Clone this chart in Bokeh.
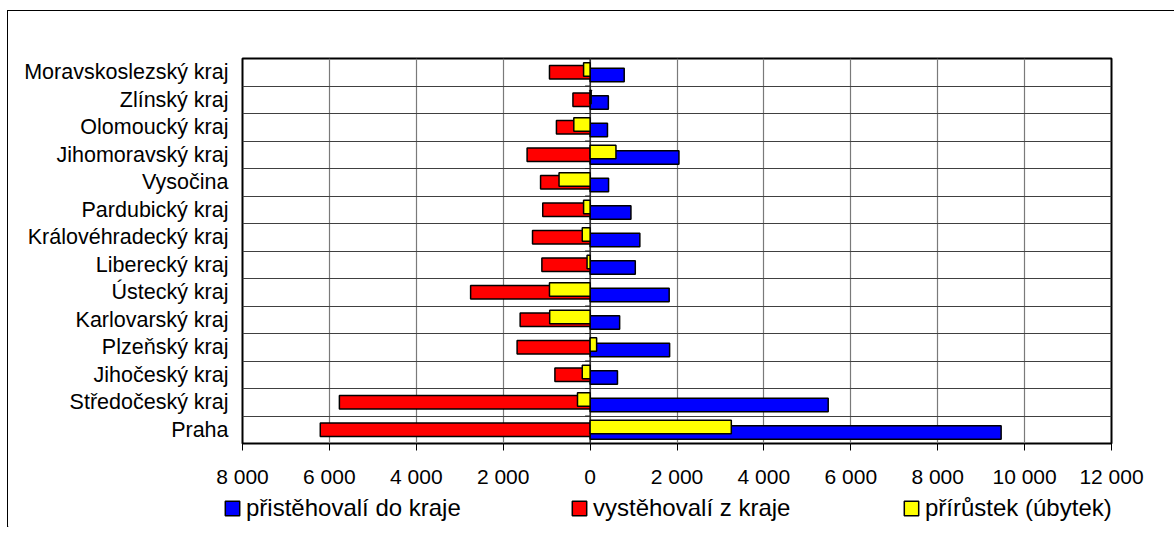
from bokeh.plotting import figure
from bokeh.layouts import column, row
from bokeh.models import Range1d, FixedTicker, ColumnDataSource, Legend, LegendItem, Span
from bokeh.embed import file_html
from bokeh.resources import INLINE

# ---- data (bottom to top) ----
regions = ["Praha", "Středočeský kraj", "Jihočeský kraj", "Plzeňský kraj",
           "Karlovarský kraj", "Ústecký kraj", "Liberecký kraj",
           "Královéhradecký kraj", "Pardubický kraj", "Vysočina",
           "Jihomoravský kraj", "Olomoucký kraj", "Zlínský kraj",
           "Moravskoslezský kraj"]
immigrants = [9460, 5480, 630, 1830, 680, 1820, 1040, 1145, 940, 425, 2045, 400, 420, 785]
emigrants = [-6210, -5770, -810, -1680, -1610, -2750, -1110, -1325, -1090, -1140, -1450, -775, -395, -935]
net = [3250, -290, -180, 150, -930, -935, -70, -180, -150, -715, 595, -375, 25, -150]
series_names = ["přistěhovalí do kraje", "vystěhovalí z kraje", "přírůstek (úbytek)"]
series_colors = ["#0000ff", "#ff0000", "#ffff00"]
x_ticks = [-8000, -6000, -4000, -2000, 0, 2000, 4000, 6000, 8000, 10000, 12000]
x_tick_labels = ["8 000", "6 000", "4 000", "2 000", "0", "2 000", "4 000",
                 "6 000", "8 000", "10 000", "12 000"]

FONT = "Liberation Sans"
n = len(regions)
centers = [i + 0.5 for i in range(n)]
OFF = 0.1
BAR_H = 0.485

W, H = 1166, 482
ML, MR, MT, MB = 234, 63, 47, 50
LH = 34
legend_x = [215, 562, 894]   # left edges of the legend entries (px)

p = figure(width=W, height=H, output_backend="svg", toolbar_location=None,
           x_range=Range1d(x_ticks[0], x_ticks[-1]), y_range=Range1d(0, n),
           min_border_left=ML, min_border_right=MR, min_border_top=MT, min_border_bottom=MB)
p.background_fill_color = "white"
p.border_fill_color = "white"
p.outline_line_color = "black"
p.outline_line_width = 2

# grids
p.xgrid.ticker = FixedTicker(ticks=x_ticks)
p.xgrid.grid_line_color = "#7a7a7a"
p.xgrid.grid_line_width = 1.2
p.ygrid.ticker = FixedTicker(ticks=list(range(1, n)))
p.ygrid.grid_line_color = "#404040"
p.ygrid.grid_line_width = 1.2

# x axis
xa = p.xaxis[0]
xa.ticker = FixedTicker(ticks=x_ticks)
xa.major_label_overrides = {t: l for t, l in zip(x_ticks, x_tick_labels)}
xa.axis_line_color = None
xa.major_tick_line_color = "black"
xa.major_tick_out = 7
xa.major_tick_in = 0
xa.minor_tick_line_color = None
xa.major_label_standoff = 14
xa.major_label_text_font = FONT
xa.major_label_text_font_size = "21px"
xa.major_label_text_color = "black"

# y axis (category labels)
ya = p.yaxis[0]
ya.ticker = FixedTicker(ticks=centers)
ya.major_label_overrides = {c: r for c, r in zip(centers, regions)}
ya.axis_line_color = None
ya.major_tick_line_color = None
ya.minor_tick_line_color = None
ya.major_label_standoff = 8
ya.major_label_text_font = FONT
ya.major_label_text_font_size = "21.5px"
ya.major_label_text_color = "black"

# zero category axis with small ticks pointing left
px_per_unit = (W - ML - MR) / (x_ticks[-1] - x_ticks[0])
tick_len = 5 / px_per_unit
p.add_layout(Span(location=0, dimension="height", line_color="#202020",
                  line_width=1.3, level="underlay"))
bounds = list(range(1, n))
p.segment(x0=[0] * len(bounds), x1=[-tick_len] * len(bounds), y0=bounds, y1=bounds,
          line_color="#202020", line_width=1.2)

src = ColumnDataSource(dict(
    yb=[c - OFF for c in centers], yr=centers, yy=[c + OFF for c in centers],
    imm=immigrants, emi=emigrants, net=net))

p.hbar(y="yb", left=0, right="imm", height=BAR_H, source=src,
       fill_color=series_colors[0], line_color="black", line_width=1.5)
p.hbar(y="yr", left=0, right="emi", height=BAR_H, source=src,
       fill_color=series_colors[1], line_color="black", line_width=1.5)
p.hbar(y="yy", left=0, right="net", height=BAR_H, source=src,
       fill_color=series_colors[2], line_color="black", line_width=1.5)

# legend strip below the chart
q = figure(width=W, height=LH, output_backend="svg", toolbar_location=None,
           x_axis_type=None, y_axis_type=None, x_range=Range1d(0, 1), y_range=Range1d(0, 1),
           min_border=0)
q.outline_line_color = None
q.background_fill_color = "white"
q.border_fill_color = "white"
q.xgrid.visible = False
q.ygrid.visible = False
for name, col, lx in zip(series_names, series_colors, legend_x):
    # swatch-only renderer, placed outside the visible ranges
    r = q.hbar(y=[-5], left=[-6], right=[-5], height=0.5, fill_color=col,
               line_color="black", line_width=1.5)
    lg = Legend(items=[LegendItem(label=name, renderers=[r])], location=(lx, 5),
                padding=0, margin=0, label_standoff=5,
                glyph_width=18, glyph_height=18,
                border_line_color=None, background_fill_alpha=0,
                label_text_font=FONT, label_text_font_size="24px",
                label_text_color="black")
    q.add_layout(lg, "center")

layout = column(p, row(q), spacing=0,
                styles={"border-left": "1px solid black", "border-top": "1px solid black",
                        "margin-top": "10px", "margin-left": "7px"})

open("out.html", "w").write(file_html(layout, INLINE))
